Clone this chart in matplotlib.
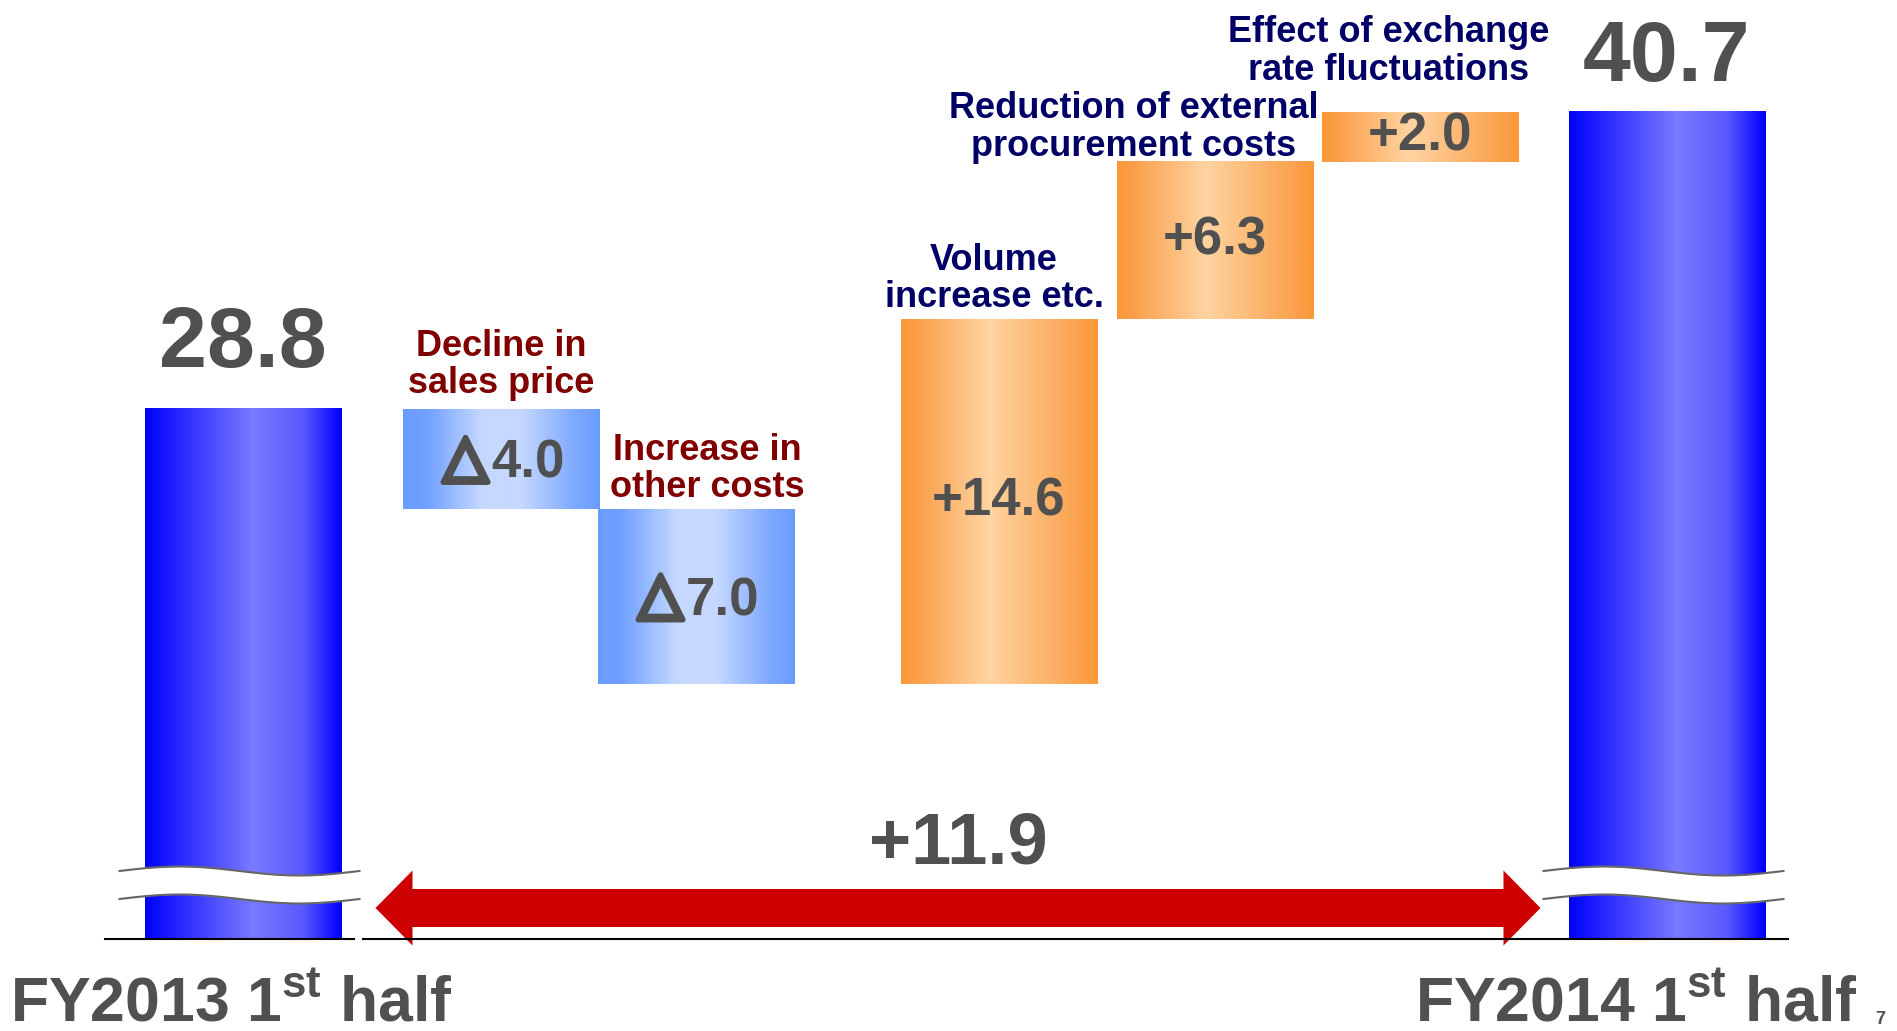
import numpy as np
import matplotlib
matplotlib.use('Agg')
import matplotlib.pyplot as plt
import matplotlib.patheffects as pe
from matplotlib.patches import FancyArrow

plt.rcParams['font.family'] = ['Liberation Sans', 'DejaVu Sans']
plt.rcParams['mathtext.fontset'] = 'custom'
plt.rcParams['mathtext.bf'] = 'Liberation Sans:bold'
plt.rcParams['mathtext.rm'] = 'Liberation Sans:bold'

# data
period_labels = ['FY2013 1$^{\\mathbf{st}}$ half', 'FY2014 1$^{\\mathbf{st}}$ half']
start_value = 28.8
end_value = 40.7
step_names = ['Decline in\nsales price', 'Increase in\nother costs', 'Volume\nincrease etc.',
              'Reduction of external\nprocurement costs', 'Effect of exchange\nrate fluctuations']
step_values = [-4.0, -7.0, 14.6, 6.3, 2.0]

# layout
W, H = 1897, 1031
bar_x = [243, 501, 696, 999, 1215, 1420, 1667]
bar_w = 197
axis_floor = 7.6      # value sitting on the broken baseline
px_per_unit = 25
base_px = 939
step_colors = ['#800000', '#800000', '#000066', '#000066', '#000066']
step_offsets = [(0, 44), (11, 40), (-5, 40), (-81, 34), (-31, 60)]
GREY = '#505050'


def to_val(py):
    return axis_floor + (base_px - py) / px_per_unit


def gradient(stops, colors, n=256):
    t = np.linspace(0, 1, n)
    c = np.array(colors) / 255.0
    rgb = np.stack([np.interp(t, stops, c[:, i]) for i in range(3)], axis=-1)
    return rgb[np.newaxis, :, :]


total_grad = gradient([0, 0.55, 0.8, 1],
                      [(0, 0, 255), (122, 122, 255), (90, 90, 255), (0, 0, 255)])
minus_grad = gradient([0, 0.12, 0.4, 0.6, 0.88, 1],
                      [(106, 156, 255), (112, 160, 255), (197, 216, 255),
                       (197, 216, 255), (125, 168, 255), (106, 156, 255)])
plus_grad = gradient([0, 0.1, 0.45, 0.9, 1],
                     [(250, 152, 55), (250, 162, 78), (255, 212, 162),
                      (250, 162, 78), (250, 152, 55)])

fig = plt.figure(figsize=(W / 100, H / 100), dpi=100)
ax = fig.add_axes([0, 0, 1, 1])
ax.axis('off')

# waterfall geometry
bottoms = [axis_floor]
heights = [start_value - axis_floor]
running = start_value
for v in step_values:
    bottoms.append(min(running, running + v))
    heights.append(abs(v))
    running += v
bottoms.append(axis_floor)
heights.append(end_value - axis_floor)
grads = [total_grad] + [plus_grad if v > 0 else minus_grad for v in step_values] + [total_grad]

bars = ax.bar(bar_x, heights, bottom=bottoms, width=bar_w, color='none', edgecolor='none')
for patch, g in zip(bars.patches, grads):
    x0, y0 = patch.get_x(), patch.get_y()
    ax.imshow(g, extent=(x0, x0 + patch.get_width(), y0, y0 + patch.get_height()),
              aspect='auto', interpolation='bilinear', zorder=2)

# step labels
for i, (name, v) in enumerate(zip(step_names, step_values)):
    patch = bars.patches[i + 1]
    cx = patch.get_x() + bar_w / 2
    cy = patch.get_y() + patch.get_height() / 2
    top = patch.get_y() + patch.get_height()
    if v > 0:
        ax.text(cx, cy, '+%.1f' % v, ha='center', va='center',
                fontsize=38, fontweight='bold', color=GREY, zorder=5)
    else:
        # negative: heavy triangle mark followed by the amount
        ax.annotate('%.1f' % abs(v), (cx, cy), xytext=(-10, -19), textcoords='offset pixels',
                    ha='left', va='baseline', fontsize=38, fontweight='bold',
                    color=GREY, zorder=5)
        ax.annotate('\u25b3', (cx, cy), xytext=(-13, -16), textcoords='offset pixels',
                    ha='right', va='baseline', fontsize=42, family='DejaVu Sans',
                    color=GREY, zorder=5,
                    path_effects=[pe.Stroke(linewidth=4, foreground=GREY), pe.Normal()])
    ax.annotate(name, (cx, top), xytext=step_offsets[i], textcoords='offset pixels',
                ha='center', va='center', fontsize=26, fontweight='bold',
                color=step_colors[i], linespacing=1.08, zorder=5)

# totals
ax.annotate('%.1f' % start_value, (bar_x[0], start_value), xytext=(0, 64),
            textcoords='offset pixels', ha='center', va='center',
            fontsize=62, fontweight='bold', color=GREY)
ax.annotate('%.1f' % end_value, (bar_x[-1], end_value), xytext=(0, 52),
            textcoords='offset pixels', ha='center', va='center',
            fontsize=62, fontweight='bold', color=GREY)

# axis break bands on the two total bars
t = np.linspace(0, 1, 120)
band_mid = to_val(885)
half = 14 / px_per_unit
amp = 4.5 / px_per_unit
for i in (0, -1):
    xs = np.linspace(bar_x[i] - bar_w / 2 - 25, bar_x[i] + bar_w / 2 + 18, t.size)
    wave = amp * np.sin(2 * np.pi * t)
    upper = band_mid + half + wave
    lower = band_mid - half + wave
    ax.fill_between(xs, lower, upper, color='white', zorder=3, lw=0)
    ax.plot(xs, upper, color='#666666', lw=1.5, zorder=4)
    ax.plot(xs, lower, color='#666666', lw=1.5, zorder=4)

# difference arrow
arrow_y = to_val(908)
x_left = bar_x[0] + bar_w / 2 + 34
x_right = bar_x[-1] - bar_w / 2 - 28
x_mid = (x_left + x_right) / 2
for x_end in (x_left, x_right):
    ax.add_patch(FancyArrow(x_mid, arrow_y, x_end - x_mid, 0,
                            width=38 / px_per_unit, head_width=75 / px_per_unit,
                            head_length=37, length_includes_head=True,
                            color='#cc0000', lw=0, zorder=3))
ax.annotate('+%.1f' % (end_value - start_value), (x_mid, arrow_y), xytext=(0, 63),
            textcoords='offset pixels', ha='center', va='center',
            fontsize=52, fontweight='bold', color=GREY)

# baseline
ax.plot([105, 354], [axis_floor, axis_floor], color='black', lw=1.5, zorder=4)
ax.plot([363, 1788], [axis_floor, axis_floor], color='black', lw=1.5, zorder=4)

ax.set_xlim(0, W)
ax.set_ylim(to_val(H), to_val(0))

# period labels
fig.text(10 / W, 1 - 1021 / H, period_labels[0], ha='left', va='baseline',
         fontsize=45, fontweight='bold', color=GREY)
fig.text(1858 / W, 1 - 1021 / H, period_labels[1], ha='right', va='baseline',
         fontsize=45, fontweight='bold', color=GREY)
fig.text(1880 / W, 1 - 1028 / H, '7', ha='center', va='bottom', fontsize=13,
         fontweight='bold', color=GREY)

fig.savefig('out.png', dpi=100)
